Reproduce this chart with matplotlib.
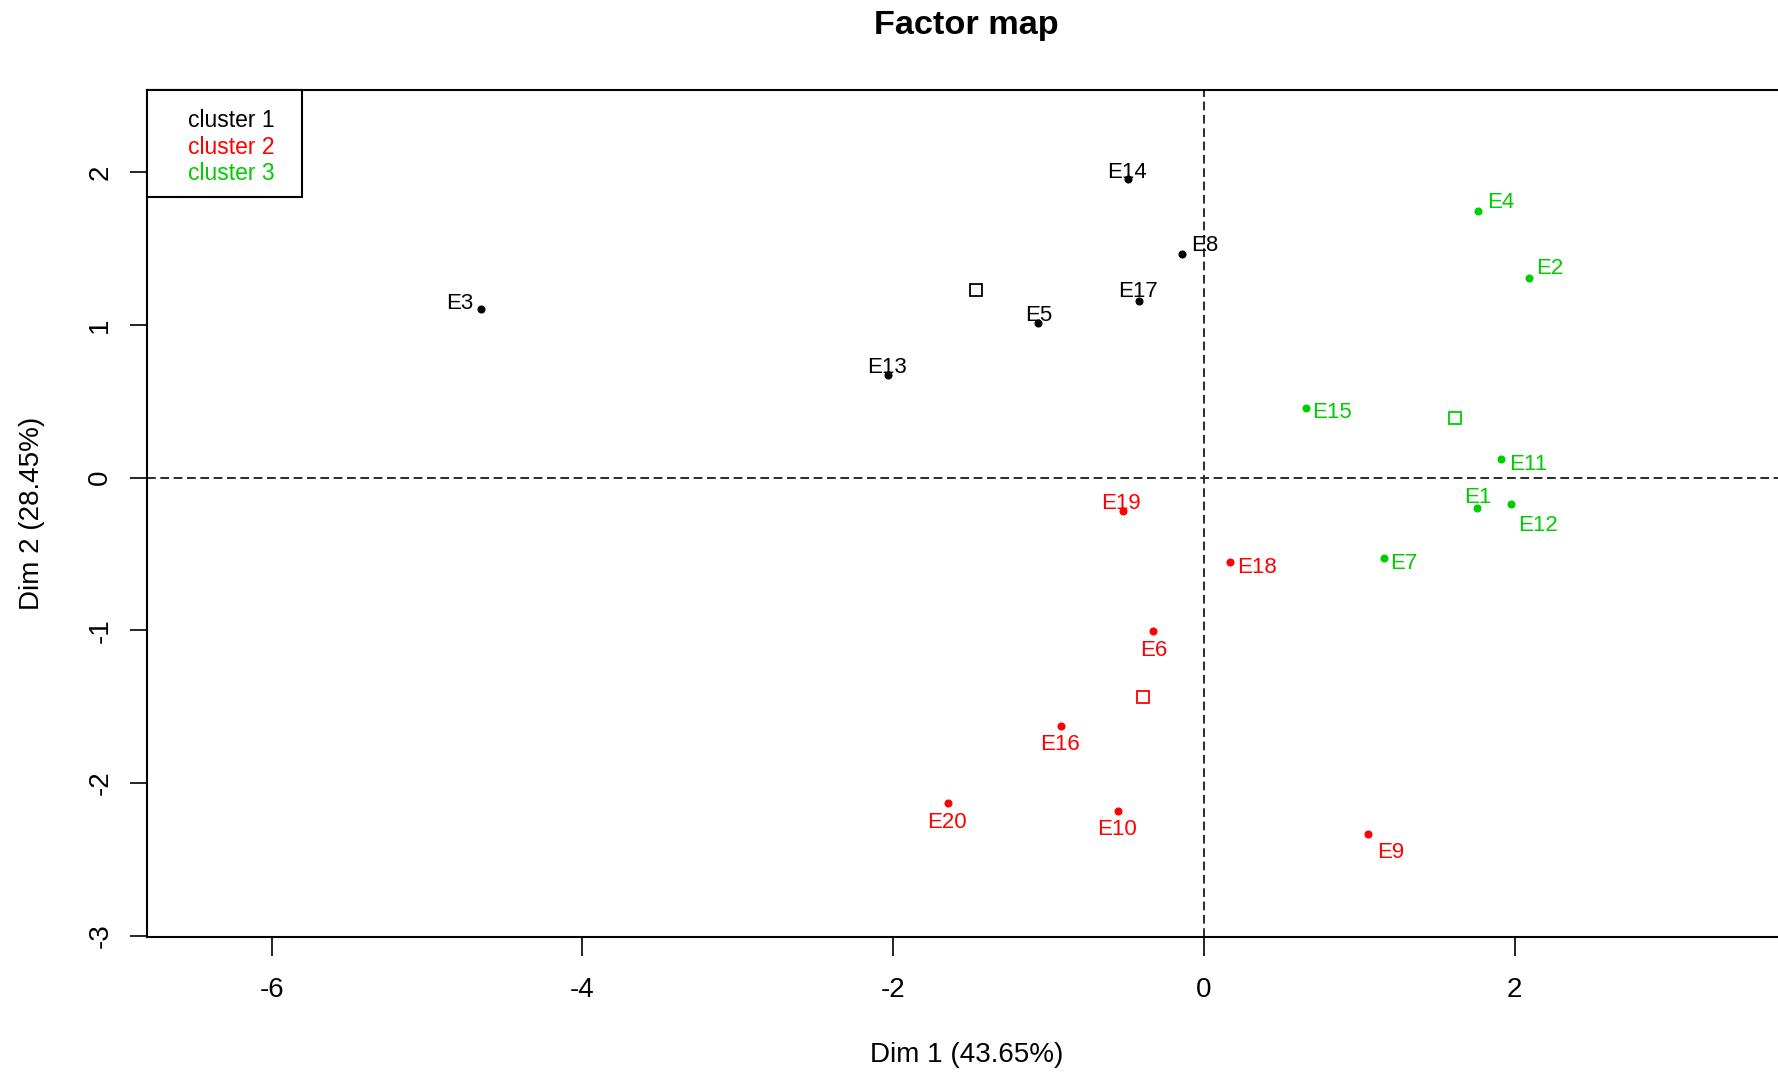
import matplotlib
matplotlib.use("Agg")
import matplotlib.pyplot as plt
from matplotlib.patches import Rectangle

# individuals per cluster (Dim 1, Dim 2)
cluster1_names = ["E14", "E8", "E17", "E5", "E13", "E3"]
cluster1_x = [-0.487, -0.144, -0.416, -1.066, -2.035, -4.653]
cluster1_y = [1.955, 1.468, 1.158, 1.012, 0.671, 1.104]

cluster2_names = ["E19", "E18", "E6", "E16", "E20", "E10", "E9"]
cluster2_x = [-0.520, 0.165, -0.326, -0.920, -1.647, -0.555, 1.055]
cluster2_y = [-0.218, -0.550, -1.005, -1.629, -2.131, -2.186, -2.337]

cluster3_names = ["E4", "E2", "E15", "E11", "E1", "E12", "E7"]
cluster3_x = [1.761, 2.091, 0.654, 1.909, 1.760, 1.976, 1.156]
cluster3_y = [1.750, 1.307, 0.455, 0.123, -0.197, -0.172, -0.524]

legend_labels = ["cluster 1", "cluster 2", "cluster 3"]
x_ticks = [-6, -4, -2, 0, 2]
y_ticks = [-3, -2, -1, 0, 1, 2]

# label placement (pixels, right / down) so the labels sit like in the R plot
label_offsets = {
    "E14": (-1, -9), "E8": (23, -11), "E17": (-1, -12), "E5": (0, -10),
    "E13": (-1, -10), "E3": (-21, -8),
    "E19": (-2, -10), "E18": (27, 3), "E6": (0, 17), "E16": (-1, 16),
    "E20": (-1, 17), "E10": (-1, 16), "E9": (23, 16),
    "E4": (23, -11), "E2": (21, -12), "E15": (26, 2), "E11": (28, 3),
    "E1": (0, -13), "E12": (27, 19), "E7": (20, 3),
}

colors = ["black", "#FF0000", "#00CD00"]

plt.rcParams['font.family'] = ['Liberation Sans', 'DejaVu Sans']
plt.rcParams['lines.scale_dashes'] = False

W, H = 1778, 1075
fig = plt.figure(figsize=(W / 100, H / 100), dpi=100)


def fx(px):
    return px / W


def fy(py):
    return 1 - py / H


ax = fig.add_axes([fx(147.4), fy(936.6), (1785 - 147.4) / W, (936.6 - 89.6) / H])
ax.set_xlim(-6.80, 3.74)
ax.set_ylim(-3.007, 2.543)

ax.axhline(0, color="#2b2b2b", lw=1.4, dashes=(6.3, 3.3), zorder=1)
ax.axvline(0, color="#2b2b2b", lw=1.4, dashes=(6.3, 3.3), zorder=1)

label_size = 16
cap_half = 0.716 * label_size * 100 / 72 / 2

clusters = [
    (cluster1_names, cluster1_x, cluster1_y),
    (cluster2_names, cluster2_x, cluster2_y),
    (cluster3_names, cluster3_x, cluster3_y),
]
for (names, xs, ys), c in zip(clusters, colors):
    ax.plot(xs, ys, "o", ms=4.8, color=c, mec=c, zorder=3)
    # cluster centre = mean of its members
    cx = sum(xs) / len(xs)
    cy = sum(ys) / len(ys)
    ax.plot(cx, cy, "s", ms=8, mfc="none", mec=c, mew=1.3, zorder=3)
    for n, x, y in zip(names, xs, ys):
        dx, dy = label_offsets[n]
        ax.annotate(n, (x, y), xytext=(dx, -(dy + cap_half)),
                    textcoords="offset pixels", ha="center", va="baseline",
                    color=c, fontsize=label_size, zorder=4)

ax.set_xticks(x_ticks)
ax.set_yticks(y_ticks)
ax.set_xticklabels([str(t) for t in x_ticks])
ax.set_yticklabels([str(t) for t in y_ticks], rotation=90, va="center")
ax.tick_params(axis="x", direction="out", length=14, width=1.2, labelsize=20, pad=15)
ax.tick_params(axis="y", direction="out", length=12, width=1.2, labelsize=20, pad=12.5)

for s in ["top", "left", "bottom"]:
    ax.spines[s].set_linewidth(1.5)
ax.spines["right"].set_visible(False)

ax.set_xlabel("Dim 1 (43.65%)", fontsize=20, va="center")
ax.xaxis.set_label_coords(0.5, (936.6 - 1054.6) / 847)
ax.set_ylabel("Dim 2 (28.45%)", fontsize=20, va="center")
ax.yaxis.set_label_coords((31.8 - 147.4) / 1637.6, 0.5)

ax.set_title("Factor map", fontsize=24.7, fontweight="bold", y=(936.6 - 34) / 847,
             va="baseline", pad=0)

# legend box in the top-left corner
fig.patches.append(Rectangle((fx(147.4), fy(197)), (302 - 147.4) / W, (197 - 89.6) / H,
                             transform=fig.transFigure, facecolor="white",
                             edgecolor="black", lw=1.5, zorder=5))
for i, (lab, c) in enumerate(zip(legend_labels, colors)):
    fig.text(fx(188), fy(127 + i * 26.7), lab, color=c, fontsize=16.5,
             ha="left", va="baseline", zorder=6)

fig.savefig("out.png", dpi=100)
